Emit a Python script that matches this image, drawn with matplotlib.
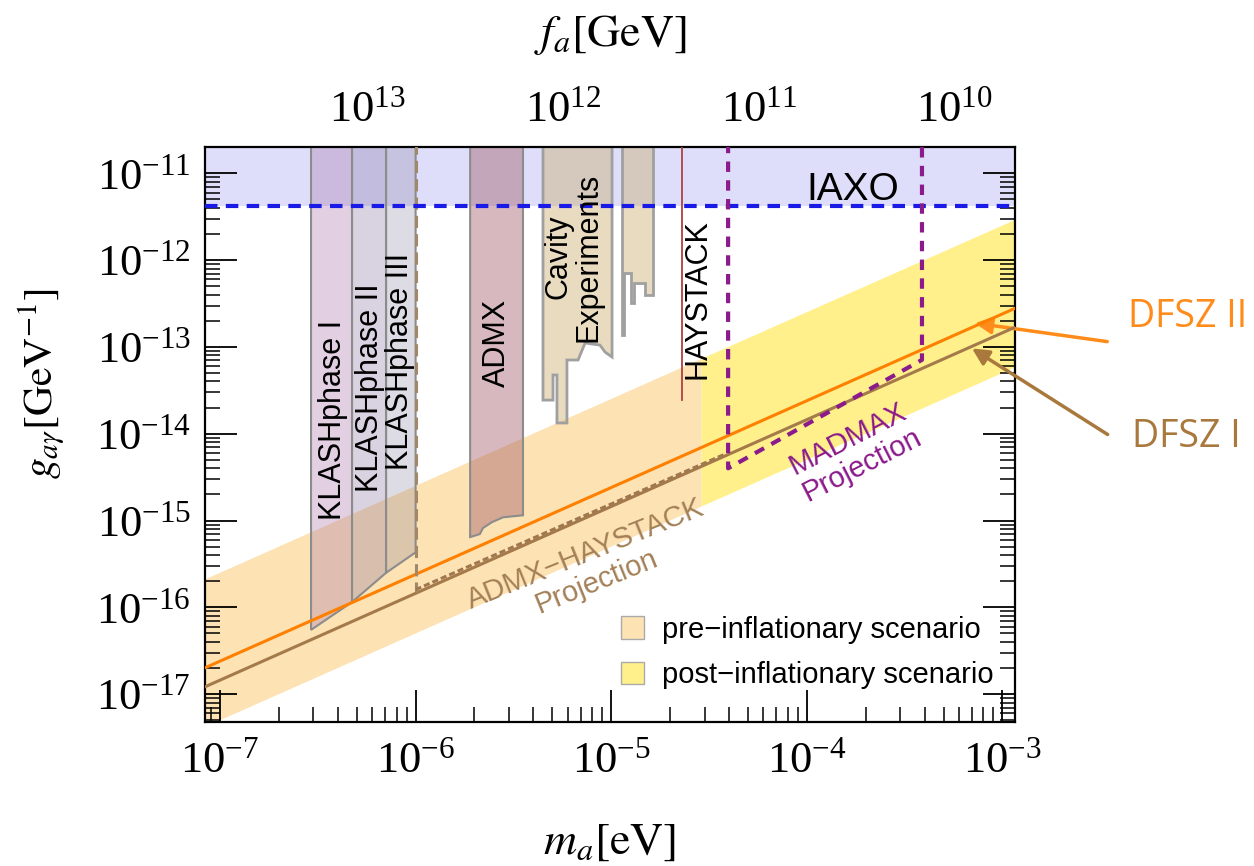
import numpy as np
import matplotlib.pyplot as plt
from matplotlib.patches import Patch
from matplotlib.ticker import LogLocator, NullFormatter, FixedLocator

plt.rcParams['font.family'] = ['Liberation Serif', 'DejaVu Serif']
plt.rcParams['mathtext.fontset'] = 'stix'
sans = 'Liberation Sans'

# axis ranges and tick values
m_lim = [8.38e-8, 1.16e-3]
g_lim = [4.78e-18, 2.01e-11]
m_ticks = [1e-7, 1e-6, 1e-5, 1e-4, 1e-3]
g_ticks = [1e-17, 1e-16, 1e-15, 1e-14, 1e-13, 1e-12, 1e-11]
fa_ticks = [1e10, 1e11, 1e12, 1e13]
g_top = 1e-10   # regions that run off the top of the frame

# IAXO sensitivity
g_iaxo = 4.2e-12

# DFSZ model lines (end points)
dfsz1_m = [8.0e-8, 1.3e-3]
dfsz1_g = [1.16e-17, 1.89e-13]
dfsz2_m = [8.0e-8, 1.3e-3]
dfsz2_g = [1.92e-17, 3.12e-13]

# pre / post inflationary bands
pre_m = [8.0e-8, 2.9e-5, 2.9e-5, 8.0e-8]
pre_g = [4.0e-18, 1.45e-15, 7.3e-14, 2.0e-16]
post_m = [2.9e-5, 1.3e-3, 1.3e-3, 2.9e-5]
post_g = [1.45e-15, 6.5e-14, 3.25e-12, 7.3e-14]

# KLASH phases
klash1_m = [2.92e-7, 2.92e-7, 4.73e-7, 4.73e-7]
klash1_g = [g_top, 5.5e-17, 1.15e-16, g_top]
klash2_m = [4.73e-7, 4.73e-7, 7.06e-7, 7.06e-7]
klash2_g = [g_top, 1.15e-16, 2.5e-16, g_top]
klash3_m = [7.06e-7, 7.06e-7, 1.0e-6, 1.0e-6]
klash3_g = [g_top, 2.5e-16, 4.3e-16, g_top]

# ADMX exclusion
admx_m = [1.90e-6, 1.90e-6, 2.13e-6, 2.21e-6, 2.46e-6, 2.80e-6, 3.15e-6, 3.54e-6, 3.54e-6]
admx_g = [g_top, 6.45e-16, 6.98e-16, 8.2e-16, 9.6e-16, 1.09e-15, 1.12e-15, 1.15e-15, g_top]

# other cavity experiments
cavA_m = [4.48e-6, 4.48e-6, 5.04e-6, 5.04e-6, 5.28e-6, 5.28e-6, 5.94e-6, 5.94e-6,
          6.77e-6, 7.35e-6, 8.76e-6, 9.30e-6, 1.01e-5, 1.01e-5]
cavA_g = [g_top, 2.44e-14, 2.44e-14, 4.75e-14, 4.75e-14, 1.33e-14, 1.33e-14, 7.07e-14,
          7.07e-14, 1.11e-13, 1.05e-13, 8.73e-14, 7.65e-14, g_top]
cavB_m = [1.136e-5, 1.136e-5, 1.163e-5, 1.163e-5, 1.262e-5, 1.262e-5, 1.308e-5, 1.308e-5,
          1.489e-5, 1.489e-5, 1.636e-5, 1.636e-5]
cavB_g = [g_top, 1.37e-13, 1.37e-13, 7.10e-13, 7.10e-13, 3.20e-13, 3.20e-13, 5.45e-13,
          5.45e-13, 3.96e-13, 3.96e-13, g_top]

# HAYSTACK
hay_m = [2.3e-5, 2.3e-5]
hay_g = [2.45e-14, g_top]

# projections
madmax_m = [3.96e-5, 3.96e-5, 3.88e-4, 3.88e-4]
madmax_g = [g_top, 4.0e-15, 7.1e-14, g_top]
proj_vert_m = [1.0e-6, 1.0e-6]
proj_vert_g = [g_top, 1.5e-16]
proj_m = [1.0e-6, 3.8e-5]
proj_g = [1.6e-16, 5.8e-15]

pre_col = '#fde2b4'
post_col = '#fff08c'
orange = '#ff8000'
brown = '#a47a4a'

W, H = 1254, 866
fig = plt.figure(figsize=(W / 100, H / 100), dpi=100)
ax = fig.add_axes([205/W, 1-722/H, 810/W, 575/H])
ax.set_xscale('log')
ax.set_yscale('log')
ax.set_xlim(m_lim)
ax.set_ylim(g_lim)

# IAXO band
ax.axhspan(g_iaxo, g_top, color='#dedefa', zorder=0.5, lw=0)
ax.axhline(g_iaxo, color='#1a1ae6', lw=3, dashes=(3, 2), zorder=5)

# bands
ax.fill(pre_m, pre_g, color=pre_col, lw=0, zorder=1)
ax.fill(post_m, post_g, color=post_col, lw=0, zorder=1)

# experiments
ax.fill(klash1_m, klash1_g, facecolor=(172/255, 121/255, 172/255, 0.35), edgecolor='#8c8c8c', lw=1.5, zorder=2)
ax.fill(klash2_m, klash2_g, facecolor=(132/255, 112/255, 158/255, 0.3), edgecolor='#8c8c8c', lw=1.5, zorder=2)
ax.fill(klash3_m, klash3_g, facecolor=(123/255, 115/255, 147/255, 0.25), edgecolor='#8c8c8c', lw=1.5, zorder=2)
ax.fill(admx_m, admx_g, facecolor=(166/255, 99/255, 111/255, 0.45), edgecolor='#8c8c8c', lw=1.5, zorder=2)
ax.fill(cavA_m, cavA_g, facecolor=(204/255, 177/255, 115/255, 0.45), edgecolor='#a0a0a0', lw=2, zorder=2)
ax.fill(cavB_m, cavB_g, facecolor=(204/255, 177/255, 115/255, 0.45), edgecolor='#a0a0a0', lw=2, zorder=2)
ax.plot(hay_m, hay_g, color='#b04040', lw=1.3, zorder=3)

# DFSZ lines
ax.plot(dfsz2_m, dfsz2_g, color=orange, lw=2.2, zorder=4)
ax.plot(dfsz1_m, dfsz1_g, color=brown, lw=2.2, zorder=4)

# projections
ax.plot(proj_vert_m, proj_vert_g, color='#a08868', lw=2.2, dashes=(4, 2), zorder=4)
ax.plot(proj_m, proj_g, color='#a07850', lw=2.2, dashes=(2, 1), zorder=4)
ax.plot(madmax_m, madmax_g, color='#8b1a8b', lw=3, dashes=(2.5, 2), zorder=5)

# labels inside the frame
tk = dict(family=sans, fontsize=22, rotation=90, ha='center', va='center', zorder=6)
ax.text(3.78e-7, 1.44e-14, 'KLASHphase I', **tk)
ax.text(5.85e-7, 3.36e-14, 'KLASHphase II', **tk)
ax.text(8.32e-7, 6.89e-14, 'KLASHphase III', **tk)
ax.text(2.61e-6, 1.11e-13, 'ADMX', **tk)
ax.text(6.45e-6, 1.09e-12, 'Cavity\nExperiments', linespacing=1.0, **tk)
ax.text(2.75e-5, 3.56e-13, 'HAYSTACK', **tk)
ax.text(1.72e-4, 6.42e-12, 'IAXO', family=sans, fontsize=28, ha='center', va='center', zorder=6)
ax.text(7.89e-6, 2.84e-16, 'ADMX−HAYSTACK\nProjection', family=sans, fontsize=21, color='#a48058',
        rotation=22, ha='center', va='center', linespacing=1.1, zorder=6)
ax.text(1.76e-4, 6.15e-15, 'MADMAX\nProjection', family=sans, fontsize=21, color='#8b1a8b',
        rotation=27, ha='center', va='center', linespacing=1.1, zorder=6)

# legend
handles = [Patch(facecolor=pre_col, edgecolor='#aaaaaa', label='pre−inflationary scenario'),
           Patch(facecolor=post_col, edgecolor='#aaaaaa', label='post−inflationary scenario')]
ax.legend(handles=handles, loc='lower right', bbox_to_anchor=(1.02, -0.009), frameon=False,
          prop={'family': sans, 'size': 21}, handlelength=0.8, handleheight=0.8,
          handletextpad=0.6, labelspacing=0.6, borderaxespad=0.9)

# ticks
for s in ax.spines.values():
    s.set_linewidth(1.6)
ax.xaxis.set_major_locator(FixedLocator(m_ticks))
ax.xaxis.set_minor_locator(LogLocator(base=10, subs=np.arange(2, 10), numticks=100))
ax.yaxis.set_major_locator(FixedLocator(g_ticks))
ax.yaxis.set_minor_locator(LogLocator(base=10, subs=np.arange(2, 10), numticks=100))
ax.xaxis.set_minor_formatter(NullFormatter())
ax.yaxis.set_minor_formatter(NullFormatter())
ax.tick_params(which='both', direction='in', right=True, top=False)
ax.tick_params(which='major', length=23, width=1.3, labelsize=32, pad=10)
ax.tick_params(which='minor', length=11, width=1.1)
ax.tick_params(axis='x', which='major', pad=14)


def m2f(m):
    m = np.asarray(m, dtype=float)
    return 5.7e6 / np.where(m > 0, m, 1e-300)


secax = ax.secondary_xaxis('top', functions=(m2f, m2f))
secax.xaxis.set_major_locator(FixedLocator(fa_ticks))
secax.xaxis.set_minor_formatter(NullFormatter())
secax.tick_params(which='both', direction='in')
secax.tick_params(which='major', length=23, width=1.3, labelsize=32, pad=12)
secax.tick_params(which='minor', length=11, width=1.1)
secax.set_xlabel(r'$f_a[\mathrm{GeV}]$', fontsize=33, labelpad=32)

ax.set_xlabel(r'$m_a[\mathrm{eV}]$', fontsize=33)
ax.xaxis.set_label_coords(0.5, -0.172)
ax.set_ylabel(r'$g_{a\gamma}[\mathrm{GeV}^{-1}]$', fontsize=30)
ax.yaxis.set_label_coords(-0.17, 0.588)

# DFSZ annotations outside the frame
fig.text(1128/W, 1-317/H, 'DFSZ II', family='Open Sans', fontsize=27, color='#ff8c1a', va='center')
fig.text(1132/W, 1-437/H, 'DFSZ I', family='Open Sans', fontsize=27, color='#a8783c', va='center')
ax.annotate('', xy=(7.0e-4, 1.9e-13), xycoords='data', xytext=(1110, H-342),
            textcoords='figure pixels', annotation_clip=False,
            arrowprops=dict(arrowstyle='-|>', color='#ff8c1a', lw=2.5, mutation_scale=25))
ax.annotate('', xy=(6.8e-4, 1.0e-13), xycoords='data', xytext=(1110, H-436),
            textcoords='figure pixels', annotation_clip=False,
            arrowprops=dict(arrowstyle='-|>', color='#a8783c', lw=2.5, mutation_scale=25))

fig.savefig('out.png', dpi=100)
